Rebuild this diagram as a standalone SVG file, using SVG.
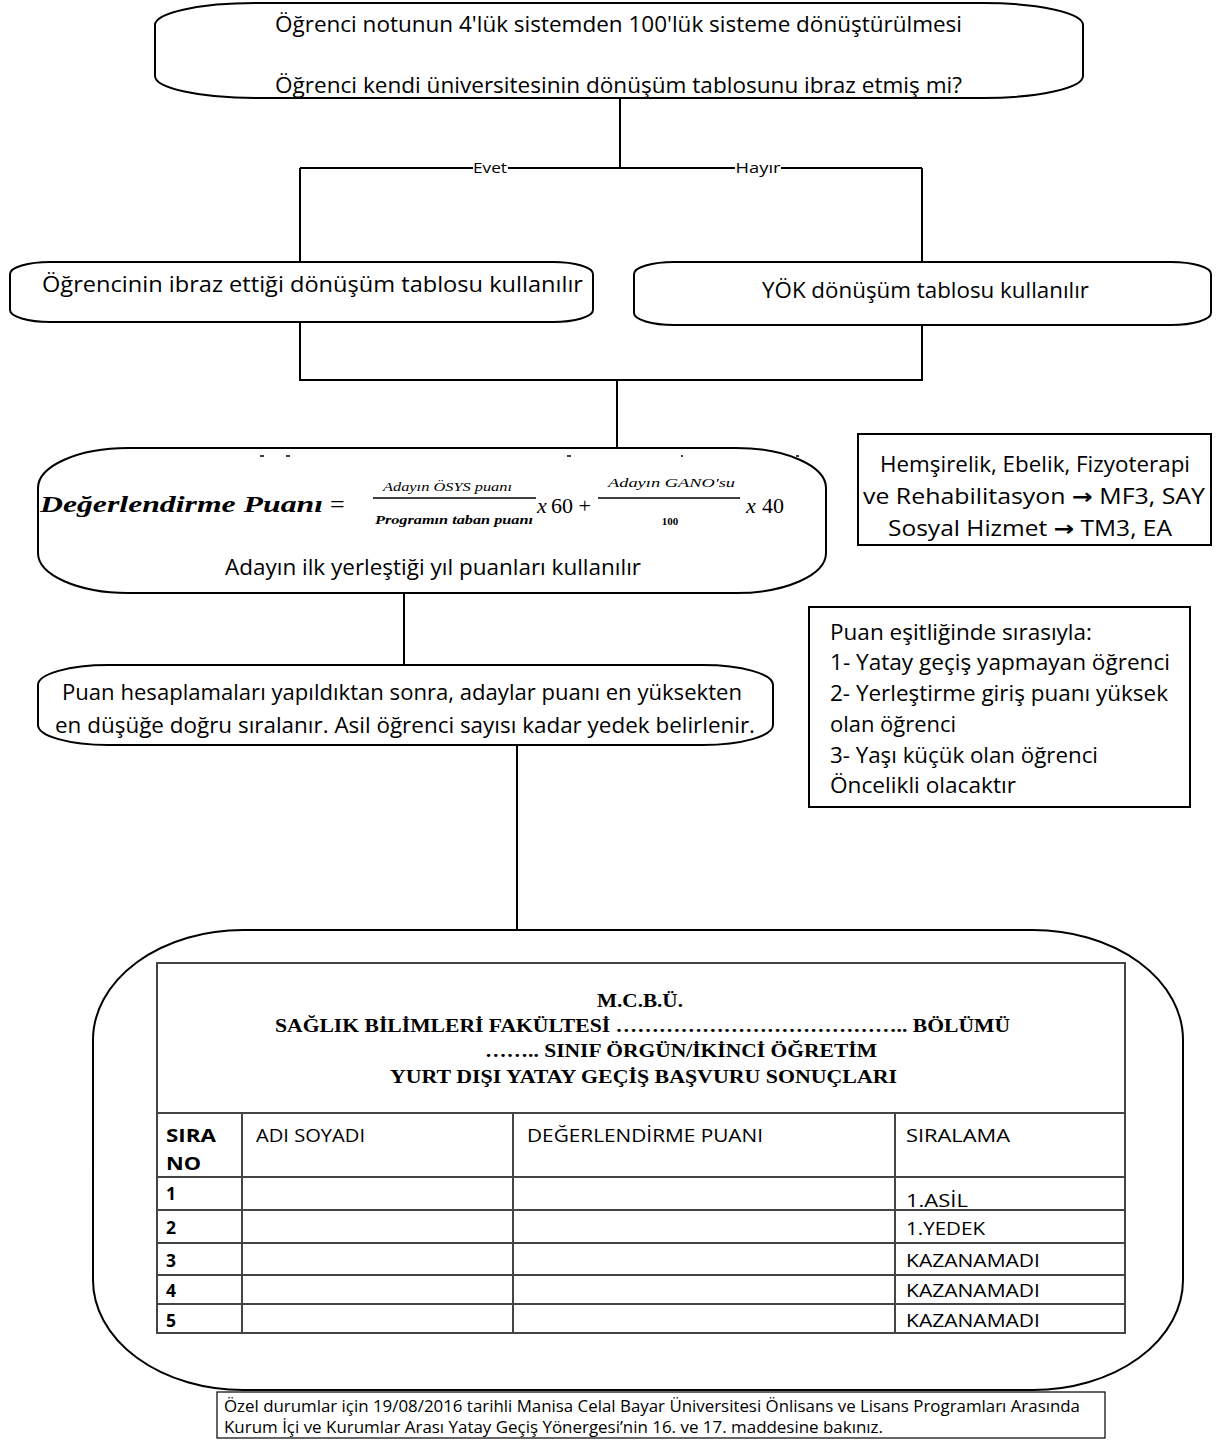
<svg xmlns="http://www.w3.org/2000/svg" width="1217" height="1443" viewBox="0 0 1217 1443">
<style>
.box{fill:#fff;stroke:#000;stroke-width:2}
.t{font-family:"Open Sans","Noto Sans",sans-serif;font-size:21px;fill:#000}
.s{font-family:"Open Sans","Noto Sans",sans-serif;font-size:15px;fill:#000}
.n{font-family:"Open Sans","Noto Sans",sans-serif;font-size:15.5px;fill:#000}
.c{stroke:#000;stroke-width:2;fill:none}
.hd{font-family:"Liberation Serif",serif;font-weight:bold;font-size:19px;fill:#000}
.tb{font-family:"Open Sans","Noto Sans",sans-serif;font-size:17.5px;fill:#000}
.fm{font-family:"Liberation Serif",serif;font-style:italic;fill:#000}
.tl{stroke:#444;stroke-width:2;fill:none}
.ar{font-family:"DejaVu Sans",sans-serif;font-weight:bold}
</style>
<rect width="1217" height="1443" fill="#fff"/>
<g id="connectors">
<path class="c" d="M620 98V168M300 168H473M508 168H735M781 168H922M300 168V262M922 168V262"/>
<path class="c" d="M300 322V380H922V325M617 380V448"/>
<path class="c" d="M404 593V665"/>
<path class="c" d="M517 745V930"/>
<text class="s" x="490" y="173" text-anchor="middle" textLength="34" lengthAdjust="spacingAndGlyphs">Evet</text>
<text class="s" x="758" y="173" text-anchor="middle" textLength="45" lengthAdjust="spacingAndGlyphs">Hayır</text>
</g>
<g id="n1">
<rect class="box" x="155" y="3" width="928" height="95" rx="100" ry="22"/>
<text class="t" x="275" y="32" textLength="687" lengthAdjust="spacingAndGlyphs">Öğrenci notunun 4'lük sistemden 100'lük sisteme dönüştürülmesi</text>
<text class="t" x="275" y="93" textLength="687" lengthAdjust="spacingAndGlyphs">Öğrenci kendi üniversitesinin dönüşüm tablosunu ibraz etmiş mi?</text>
</g>
<g id="n2">
<rect class="box" x="10" y="262" width="583" height="60" rx="40" ry="12"/>
<text class="t" x="42" y="292" textLength="541" lengthAdjust="spacingAndGlyphs">Öğrencinin ibraz ettiği dönüşüm tablosu kullanılır</text>
</g>
<g id="n3">
<rect class="box" x="634" y="262" width="577" height="63" rx="40" ry="12"/>
<text class="t" x="762" y="298" textLength="327" lengthAdjust="spacingAndGlyphs">YÖK dönüşüm tablosu kullanılır</text>
</g>
<g id="n4">
<rect class="box" x="38" y="448" width="788" height="145" rx="90" ry="40"/>
<g stroke="#000" stroke-width="1.5">
<path d="M260 456h4M286 456h4M567 456h4M681 456h2M796 456h3"/>
</g>
<text class="fm" x="40" y="512" font-size="23" font-weight="bold" textLength="283" lengthAdjust="spacingAndGlyphs">Değerlendirme Puanı</text>
<text x="330" y="513" font-family="Liberation Serif,serif" font-size="26">=</text>
<text class="fm" x="383" y="491" font-size="12.5" textLength="129" lengthAdjust="spacingAndGlyphs">Adayın ÖSYS puanı</text>
<line x1="373" y1="498" x2="536" y2="498" stroke="#000" stroke-width="1.3"/>
<text class="fm" x="375" y="524" font-size="12.5" font-weight="bold" textLength="158" lengthAdjust="spacingAndGlyphs">Programın taban puanı</text>
<text class="fm" x="537" y="513" font-size="22">x</text>
<text x="551" y="513" font-family="Liberation Serif,serif" font-size="22">60 +</text>
<text class="fm" x="608" y="487" font-size="12.5" textLength="127" lengthAdjust="spacingAndGlyphs">Adayın GANO'su</text>
<line x1="598" y1="498" x2="740" y2="498" stroke="#000" stroke-width="1.3"/>
<text x="670" y="525" font-family="Liberation Serif,serif" font-size="11" font-weight="bold" text-anchor="middle">100</text>
<text class="fm" x="746" y="513" font-size="22">x</text>
<text x="762" y="513" font-family="Liberation Serif,serif" font-size="22">40</text>
<text class="t" x="225" y="575" textLength="416" lengthAdjust="spacingAndGlyphs">Adayın ilk yerleştiği yıl puanları kullanılır</text>
</g>
<g id="n5">
<rect class="box" x="858" y="434" width="353" height="111"/>
<text class="t" x="1035" y="472" text-anchor="middle" textLength="310" lengthAdjust="spacingAndGlyphs">Hemşirelik, Ebelik, Fizyoterapi</text>
<text class="t" x="1034" y="504" text-anchor="middle" textLength="342" lengthAdjust="spacingAndGlyphs">ve Rehabilitasyon <tspan class="ar">→</tspan> MF3, SAY</text>
<text class="t" x="1030" y="536" text-anchor="middle" textLength="284" lengthAdjust="spacingAndGlyphs">Sosyal Hizmet <tspan class="ar">→</tspan> TM3, EA</text>
</g>
<g id="n6">
<rect class="box" x="38" y="665" width="735" height="80" rx="70" ry="20"/>
<text class="t" x="62" y="700" textLength="680" lengthAdjust="spacingAndGlyphs">Puan hesaplamaları yapıldıktan sonra, adaylar puanı en yüksekten</text>
<text class="t" x="55" y="733" textLength="700" lengthAdjust="spacingAndGlyphs">en düşüğe doğru sıralanır. Asil öğrenci sayısı kadar yedek belirlenir.</text>
</g>
<g id="n7">
<rect class="box" x="809" y="607" width="381" height="200"/>
<text class="t" x="830" y="640" textLength="262" lengthAdjust="spacingAndGlyphs">Puan eşitliğinde sırasıyla:</text>
<text class="t" x="830" y="670" textLength="340" lengthAdjust="spacingAndGlyphs">1- Yatay geçiş yapmayan öğrenci</text>
<text class="t" x="830" y="701" textLength="338" lengthAdjust="spacingAndGlyphs">2- Yerleştirme giriş puanı yüksek</text>
<text class="t" x="830" y="732" textLength="126" lengthAdjust="spacingAndGlyphs">olan öğrenci</text>
<text class="t" x="830" y="763" textLength="268" lengthAdjust="spacingAndGlyphs">3- Yaşı küçük olan öğrenci</text>
<text class="t" x="830" y="793" textLength="186" lengthAdjust="spacingAndGlyphs">Öncelikli olacaktır</text>
</g>
<g id="n8">
<rect class="box" x="93" y="930" width="1090" height="460" rx="150" ry="110"/>
<rect class="tl" x="157" y="963" width="968" height="370"/>
<text class="hd" x="640" y="1007" text-anchor="middle" textLength="86" lengthAdjust="spacingAndGlyphs">M.C.B.Ü.</text>
<text class="hd" x="275" y="1032" textLength="735" lengthAdjust="spacingAndGlyphs">SAĞLIK BİLİMLERİ FAKÜLTESİ …………………………………..  BÖLÜMÜ</text>
<text class="hd" x="485" y="1057" textLength="392" lengthAdjust="spacingAndGlyphs">…….. SINIF ÖRGÜN/İKİNCİ ÖĞRETİM</text>
<text class="hd" x="390" y="1083" textLength="507" lengthAdjust="spacingAndGlyphs">YURT DIŞI YATAY GEÇİŞ BAŞVURU SONUÇLARI</text>
<path class="tl" d="M157 1113H1125M157 1177H1125M157 1210H1125M157 1243H1125M157 1275H1125M157 1304H1125M242 1113V1333M513 1113V1333M895 1113V1333"/>
<g class="tb" font-weight="bold">
<text x="166" y="1142" textLength="50" lengthAdjust="spacingAndGlyphs">SIRA</text>
<text x="166" y="1170" textLength="35" lengthAdjust="spacingAndGlyphs">NO</text>
<text x="166" y="1200">1</text>
<text x="166" y="1234">2</text>
<text x="166" y="1267">3</text>
<text x="166" y="1297">4</text>
<text x="166" y="1327">5</text>
</g>
<g class="tb">
<text x="256" y="1142" textLength="109" lengthAdjust="spacingAndGlyphs">ADI SOYADI</text>
<text x="527" y="1142" textLength="236" lengthAdjust="spacingAndGlyphs">DEĞERLENDİRME PUANI</text>
<text x="906" y="1142" textLength="104" lengthAdjust="spacingAndGlyphs">SIRALAMA</text>
<text x="906" y="1207" textLength="62" lengthAdjust="spacingAndGlyphs">1.ASİL</text>
<text x="906" y="1235" textLength="79" lengthAdjust="spacingAndGlyphs">1.YEDEK</text>
<text x="906" y="1267" textLength="134" lengthAdjust="spacingAndGlyphs">KAZANAMADI</text>
<text x="906" y="1297" textLength="134" lengthAdjust="spacingAndGlyphs">KAZANAMADI</text>
<text x="906" y="1327" textLength="134" lengthAdjust="spacingAndGlyphs">KAZANAMADI</text>
</g>
</g>
<g id="n9">
<rect x="217" y="1392" width="888" height="46" fill="#fff" stroke="#000" stroke-width="1.2"/>
<text class="n" x="224" y="1412" textLength="856" lengthAdjust="spacingAndGlyphs">Özel durumlar için 19/08/2016 tarihli Manisa Celal Bayar Üniversitesi Önlisans ve Lisans Programları Arasında</text>
<text class="n" x="224" y="1433" textLength="659" lengthAdjust="spacingAndGlyphs">Kurum İçi ve Kurumlar Arası Yatay Geçiş Yönergesi’nin 16. ve 17. maddesine bakınız.</text>
</g>
</svg>
